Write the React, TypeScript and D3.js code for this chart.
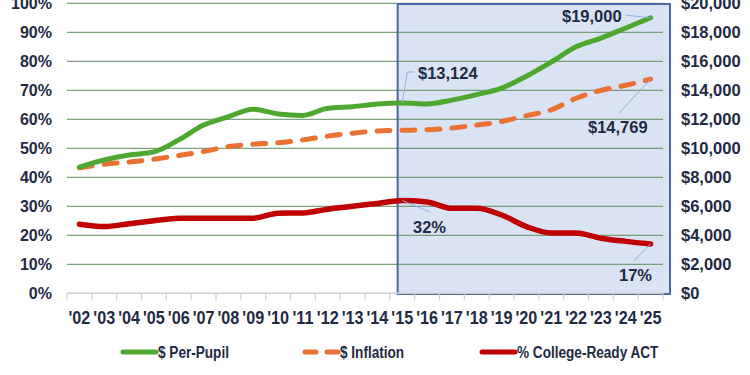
import React from 'react';
import * as d3 from 'd3';

const years = ["'02", "'03", "'04", "'05", "'06", "'07", "'08", "'09", "'10", "'11", "'12", "'13",
  "'14", "'15", "'16", "'17", "'18", "'19", "'20", "'21", "'22", "'23", "'24", "'25"];
const perPupil = [8700, 9200, 9540, 9750, 10580, 11600, 12180, 12700, 12370, 12270, 12760, 12870,
  13060, 13124, 13060, 13320, 13700, 14150, 14970, 15950, 17000, 17600, 18300, 19000];
const inflation = [8660, 8900, 9050, 9250, 9500, 9780, 10120, 10280, 10380, 10580, 10840, 11040,
  11200, 11240, 11280, 11400, 11600, 11850, 12250, 12650, 13450, 14000, 14350, 14769];
const collegeReady = [23.8, 23, 24, 25, 25.9, 25.9, 25.9, 25.9, 27.6, 27.7, 29, 30,
  31, 32, 31.5, 29.3, 29.3, 27, 23, 20.8, 20.8, 19, 17.9, 17];
const pctTicks = [0, 10, 20, 30, 40, 50, 60, 70, 80, 90, 100];
const dollarTicks = [0, 2000, 4000, 6000, 8000, 10000, 12000, 14000, 16000, 18000, 20000];

const navy = '#1f2a44';
const green = '#4ea72e';
const orange = '#e97132';
const red = '#c00000';
const leader = '#8db3e2';
const font = 'Liberation Sans, Arial, sans-serif';

// condensed bold text: Liberation Sans squeezed horizontally
const Narrow = ({ x, y, children, anchor = 'start', size = 17, squeeze = 0.8 }: any) => (
  <text transform={`translate(${x},${y}) scale(${squeeze},1)`} dy="0.36em" textAnchor={anchor}
    fontFamily={font} fontWeight="bold" fontSize={size} fill={navy}>{children}</text>
);

export default function App() {
  const left = 67, right = 663, top = 3.3, bottom = 293.3;
  const x = d3.scaleBand().domain(years).range([left, right]);
  const cx = (y: string) => (x(y) as number) + x.bandwidth() / 2;
  const yPct = d3.scaleLinear().domain([0, 100]).range([bottom, top]);
  const yDol = d3.scaleLinear().domain([0, 20000]).range([bottom, top]);

  const dolLine = d3.line<number>().x((_, i) => cx(years[i])).y((d) => yDol(d)).curve(d3.curveMonotoneX);
  const pctLine = d3.line<number>().x((_, i) => cx(years[i])).y((d) => yPct(d)).curve(d3.curveMonotoneX);

  const last = years.length - 1;
  const i15 = years.indexOf("'15");
  const boxX = cx("'15") - 4.6;

  const p15 = [cx("'15"), yDol(perPupil[i15])];
  const p25 = [cx("'25"), yDol(perPupil[last])];
  const f25 = [cx("'25"), yDol(inflation[last])];
  const r15 = [cx("'15"), yPct(collegeReady[i15])];
  const r25 = [cx("'25"), yPct(collegeReady[last])];

  return (
    <svg width={750} height={375} style={{ position: 'absolute', left: 0, top: 0, background: '#fff' }}>
      <rect x={boxX} y={top + 0.7} width={670 - boxX} height={bottom - top} fill="#dae3f3" />
      {pctTicks.slice(1).map((t) => (
        <line key={t} x1={left} x2={right} y1={yPct(t)} y2={yPct(t)} stroke="#5e8c5e" strokeWidth={1} />
      ))}
      <rect x={boxX} y={top + 0.7} width={670 - boxX} height={bottom - top} fill="none"
        stroke="#4a68a4" strokeWidth={2} />
      <line x1={left} x2={right} y1={bottom} y2={bottom} stroke="#d0d0d0" strokeWidth={1.5} />
      {d3.range(years.length + 1).map((i) => {
        const xx = left + i * x.step();
        return <line key={i} x1={xx} x2={xx} y1={bottom} y2={bottom + 7} stroke="#d0d0d0" strokeWidth={1.2} />;
      })}
      {pctTicks.map((t) => (
        <text key={t} x={52} y={yPct(t)} dy="0.36em" textAnchor="end" fontFamily={font} fontWeight="bold"
          fontSize={16} fill={navy}>{t}%</text>
      ))}
      {dollarTicks.map((t) => (
        <text key={t} x={681} y={yDol(t)} dy="0.36em" textAnchor="start" fontFamily={font} fontWeight="bold"
          fontSize={16.5} fill={navy}>{'$' + d3.format(',')(t)}</text>
      ))}
      {years.map((yr) => (
        <Narrow key={yr} x={cx(yr)} y={318} anchor="middle" size={18} squeeze={0.9}>{yr}</Narrow>
      ))}

      <path d={dolLine(inflation) || ''} fill="none" stroke={orange} strokeWidth={5} strokeDasharray="13,12"
        strokeLinecap="round" />
      <path d={dolLine(perPupil) || ''} fill="none" stroke={green} strokeWidth={5} strokeLinecap="round"
        strokeLinejoin="round" />
      <path d={pctLine(collegeReady) || ''} fill="none" stroke={red} strokeWidth={5.5} strokeLinecap="round"
        strokeLinejoin="round" />

      <g stroke={leader} strokeWidth={1} fill="none">
        <polyline points={`${p15[0]},${p15[1]} ${p15[0] + 5},${p15[1] - 31} ${p15[0] + 12},${p15[1] - 31}`} />
        <line x1={625} y1={15} x2={p25[0]} y2={p25[1]} />
        <line x1={619} y1={113} x2={f25[0]} y2={f25[1]} />
        <line x1={r15[0]} y1={r15[1]} x2={430} y2={212} />
        <line x1={634} y1={261} x2={r25[0]} y2={r25[1]} />
      </g>
      <g fontFamily={font} fontWeight="bold" fontSize={16.5} fill={navy}>
        <text x={418} y={73} dy="0.36em">$13,124</text>
        <text x={562} y={16} dy="0.36em">$19,000</text>
        <text x={588} y={127} dy="0.36em">$14,769</text>
        <text x={413} y={227} dy="0.36em">32%</text>
        <text x={619} y={275} dy="0.36em">17%</text>
      </g>

      <line x1={123} x2={156} y1={352} y2={352} stroke={green} strokeWidth={5} strokeLinecap="round" />
      <Narrow x={158} y={352} size={17}>$ Per-Pupil</Narrow>
      <line x1={305} x2={316} y1={352} y2={352} stroke={orange} strokeWidth={5} strokeLinecap="round" />
      <line x1={327} x2={338} y1={352} y2={352} stroke={orange} strokeWidth={5} strokeLinecap="round" />
      <Narrow x={340} y={352} size={17}>$ Inflation</Narrow>
      <line x1={482} x2={515} y1={352} y2={352} stroke={red} strokeWidth={5} strokeLinecap="round" />
      <Narrow x={517} y={352} size={17}>% College-Ready ACT</Narrow>
    </svg>
  );
}
